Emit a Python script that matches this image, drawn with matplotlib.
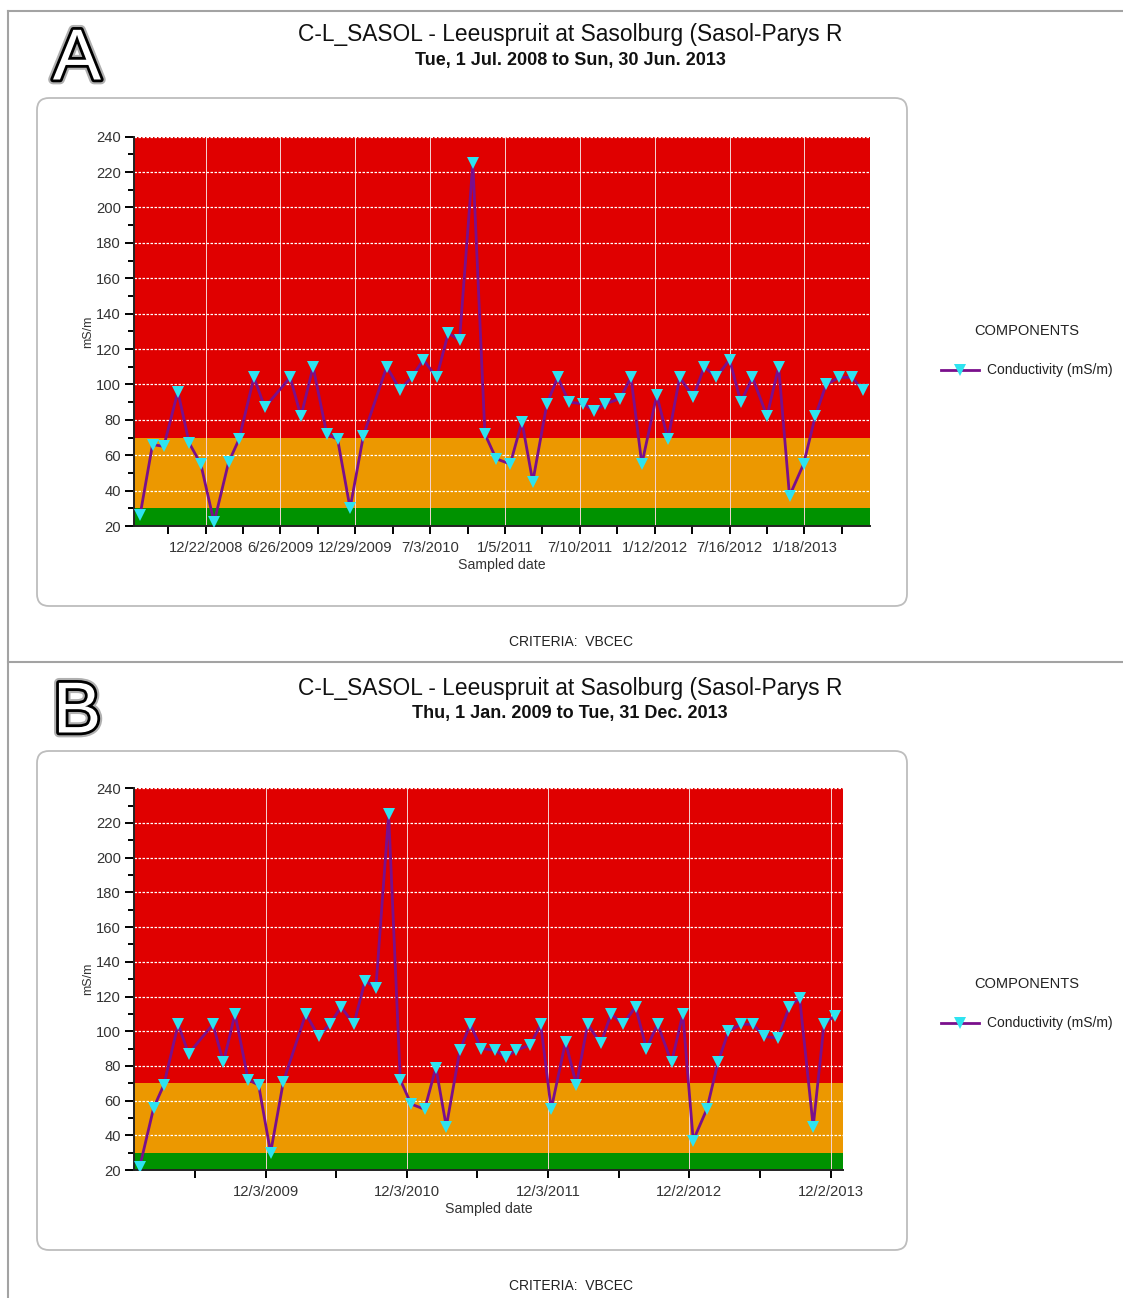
import numpy as np
import pandas as pd
import matplotlib
matplotlib.use("Agg")
import matplotlib.pyplot as plt
import matplotlib.dates as mdates
import matplotlib.patheffects as pe
from matplotlib.patches import FancyBboxPatch
from matplotlib.lines import Line2D
from matplotlib.ticker import FixedLocator, MultipleLocator
from matplotlib.transforms import IdentityTransform

# Figure size in pixels
W, H = 1123, 1298

# Sampled conductivity (mS/m)
sample_dates = [
    "2008-07-12", "2008-08-12", "2008-09-09", "2008-10-14", "2008-11-11", "2008-12-10",
    "2009-01-12", "2009-02-17", "2009-03-15", "2009-04-21", "2009-05-18", "2009-07-20",
    "2009-08-16", "2009-09-15", "2009-10-19", "2009-11-15", "2009-12-16",
    "2010-01-18", "2010-03-17", "2010-04-19", "2010-05-18", "2010-06-16", "2010-07-19",
    "2010-08-17", "2010-09-14", "2010-10-17", "2010-11-16", "2010-12-14",
    "2011-01-18", "2011-02-16", "2011-03-15", "2011-04-19", "2011-05-16", "2011-06-13",
    "2011-07-19", "2011-08-15", "2011-09-11", "2011-10-18", "2011-11-14", "2011-12-11",
    "2012-01-17", "2012-02-14", "2012-03-14", "2012-04-17", "2012-05-14", "2012-06-13",
    "2012-07-16", "2012-08-13", "2012-09-11", "2012-10-17", "2012-11-15", "2012-12-12",
    "2013-01-16", "2013-02-14", "2013-03-13", "2013-04-15", "2013-05-16", "2013-06-12",
    "2013-07-19", "2013-08-17", "2013-09-13", "2013-10-18", "2013-11-15", "2013-12-13",
]
conductivity = [
    26, 66, 65, 96, 67, 55,
    22, 56, 69, 104, 87, 104, 82, 110, 72, 69, 30,
    71, 110, 97, 104, 114, 104, 129, 125, 225, 72, 58,
    55, 79, 45, 89, 104, 90, 89, 85, 89, 92, 104, 55,
    94, 69, 104, 93, 110, 104, 114, 90, 104, 82, 110, 37,
    55, 82, 100, 104, 104, 97, 96, 114, 119, 45, 104, 109,
]

# Criteria bands (VBCEC): good / acceptable / unacceptable
band_limits = [20, 30, 70, 240]
band_colors = ["#009200", "#EC9800", "#E00000"]

title = "C-L_SASOL - Leeuspruit at Sasolburg (Sasol-Parys R"
series_name = "Conductivity (mS/m)"

# Panel A
period_a = ("2008-07-01", "2013-06-30")
subtitle_a = "Tue, 1 Jul. 2008 to Sun, 30 Jun. 2013"
xlim_a = ("2008-06-27", "2013-06-30")
ticks_a = ["2008-12-22", "2009-06-26", "2009-12-29", "2010-07-03", "2011-01-05",
           "2011-07-10", "2012-01-12", "2012-07-16", "2013-01-18"]
ticklabels_a = ["12/22/2008", "6/26/2009", "12/29/2009", "7/3/2010", "1/5/2011",
                "7/10/2011", "1/12/2012", "7/16/2012", "1/18/2013"]

# Panel B
period_b = ("2009-01-01", "2013-12-31")
subtitle_b = "Thu, 1 Jan. 2009 to Tue, 31 Dec. 2013"
xlim_b = ("2008-12-28", "2014-01-03")
ticks_b = ["2009-12-03", "2010-12-03", "2011-12-03", "2012-12-02", "2013-12-02"]
ticklabels_b = ["12/3/2009", "12/3/2010", "12/3/2011", "12/2/2012", "12/2/2013"]

plt.rcParams['font.family'] = ['Liberation Sans', 'DejaVu Sans']

df = pd.DataFrame({"date": pd.to_datetime(sample_dates), "value": conductivity})


def fx(x):
    return x / W


def fy(y):
    return 1 - y / H


def draw_panel(fig, letter, subtitle, period, xlim, ticks, ticklabels,
               top, ax_right, ax_top, ax_bottom, box_bottom, criteria_y, minor_after):
    """Draws one of the two screenshots: letter, titles, box, chart, legend, criteria."""
    # Big outlined letter
    fig.text(fx(77), fy(top + 50), letter, fontsize=52, color="white",
             ha="center", va="center",
             path_effects=[pe.Stroke(linewidth=7, foreground="#b0b0b0"),
                           pe.Stroke(linewidth=4, foreground="black"),
                           pe.Normal()])
    fig.text(fx(570), fy(top + 24), title, fontsize=16.4, color="#111111",
             ha="center", va="center")
    fig.text(fx(570), fy(top + 49.5), subtitle, fontsize=13, fontweight="bold",
             color="#111111", ha="center", va="center")

    # Rounded frame round the chart
    box = FancyBboxPatch((37, H - box_bottom), 870, box_bottom - (top + 87),
                         boxstyle="round,pad=0,rounding_size=12",
                         transform=IdentityTransform(), facecolor="none",
                         edgecolor="#bdbdbd", linewidth=1.3)
    fig.add_artist(box)

    ax = fig.add_axes([fx(134), fy(ax_bottom), fx(ax_right - 134),
                       (ax_bottom - ax_top) / H])

    # coloured criteria bands
    for lo, hi, c in zip(band_limits[:-1], band_limits[1:], band_colors):
        ax.axhspan(lo, hi, color=c, zorder=0.5, lw=0)

    sub = df[(df["date"] >= period[0]) & (df["date"] <= period[1])]
    ax.plot(sub["date"], sub["value"], color="#7A0F8C", lw=2,
            solid_joinstyle="miter", marker="v", markersize=8.5,
            markerfacecolor="#2EE3F0", markeredgewidth=0, zorder=3,
            label=series_name)

    ax.set_xlim(pd.Timestamp(xlim[0]), pd.Timestamp(xlim[1]))
    ax.set_ylim(20, 240)

    major = mdates.date2num(pd.to_datetime(ticks))
    step = (major[1] - major[0]) / 2
    minor = list(major[:-1] + np.diff(major) / 2) + [major[0] - step]
    if minor_after:
        minor.append(major[-1] + step)
    ax.xaxis.set_major_locator(FixedLocator(major))
    ax.xaxis.set_minor_locator(FixedLocator(minor))
    ax.set_xticklabels(ticklabels)
    ax.yaxis.set_major_locator(MultipleLocator(20))
    ax.yaxis.set_minor_locator(MultipleLocator(10))

    ax.tick_params(axis="both", which="both", colors="black", labelcolor="#333333",
                   labelsize=10.6, width=1.4)
    ax.tick_params(axis="y", which="major", length=6.5, pad=3)
    ax.tick_params(axis="y", which="minor", length=4)
    ax.tick_params(axis="x", which="both", length=5.5, pad=5)

    ax.grid(axis="y", which="major", color="white", linestyle=(0, (2, 1.2)),
            linewidth=0.9, zorder=1)
    ax.grid(axis="x", which="major", color="#f4d4d4", linewidth=0.7, zorder=1)

    for s in ["top", "right"]:
        ax.spines[s].set_visible(False)
    for s in ["left", "bottom"]:
        ax.spines[s].set_color("#222222")
        ax.spines[s].set_linewidth(1.4)

    ax.set_ylabel("mS/m", fontsize=9, color="#333333")
    ax.yaxis.set_label_coords((94 - 134) / (ax_right - 134), 0.5)
    ax.set_xlabel("Sampled date", fontsize=10.2, color="#333333")
    ax.xaxis.set_label_coords(0.5, -(32 / (ax_bottom - ax_top)))

    # legend to the right of the box
    leg = ax.legend(loc="center", bbox_to_anchor=(fx(1027), fy(top + 340)),
                    bbox_transform=fig.transFigure, frameon=False,
                    title="COMPONENTS", title_fontsize=10.5, fontsize=10,
                    handlelength=2.7, handletextpad=0.6, labelspacing=1.8,
                    numpoints=1)
    leg.get_title().set_color("#222222")
    for t in leg.get_texts():
        t.set_color("#222222")

    fig.text(fx(571), fy(criteria_y), "CRITERIA:  VBCEC", fontsize=10,
             color="#222222", ha="center", va="center")
    return ax


fig = plt.figure(figsize=(W / 100, H / 100), dpi=100)

# screenshot borders
for xs, ys in [([8, 8], [11, H]), ([8, W], [11, 11]), ([8, W], [662, 662])]:
    fig.add_artist(Line2D([fx(x) for x in xs], [fy(y) for y in ys],
                          color="#a3a3a3", lw=1.5))

draw_panel(fig, "A", subtitle_a, period_a, xlim_a, ticks_a, ticklabels_a,
           top=11, ax_right=870, ax_top=136.7, ax_bottom=526, box_bottom=606,
           criteria_y=642, minor_after=True)
draw_panel(fig, "B", subtitle_b, period_b, xlim_b, ticks_b, ticklabels_b,
           top=664, ax_right=843, ax_top=788.3, ax_bottom=1170, box_bottom=1250,
           criteria_y=1286, minor_after=False)

fig.savefig("out.png", dpi=100)
